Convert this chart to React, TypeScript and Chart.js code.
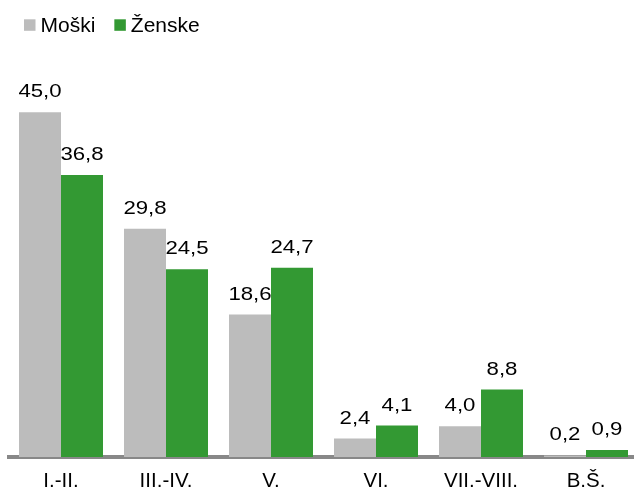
import React, { useEffect, useRef } from "react";
import { Chart, registerables } from "chart.js";

Chart.register(...registerables);

const categories = ["I.-II.", "III.-IV.", "V.", "VI.", "VII.-VIII.", "B.Š."];
const seriesNames = ["Moški", "Ženske"];
const moski = [45.0, 29.8, 18.6, 2.4, 4.0, 0.2];
const zenske = [36.8, 24.5, 24.7, 4.1, 8.8, 0.9];
const colors = ["#bcbcbc", "#339933"];

const FONT = '"Liberation Sans", Arial, sans-serif';

const fmt = (v: number) => v.toFixed(1).replace(".", ",");

const valueLabels = {
  id: "valueLabels",
  afterDatasetsDraw(chart: any) {
    const ctx = chart.ctx;
    ctx.save();
    ctx.fillStyle = "#000";
    ctx.font = `18.5px ${FONT}`;
    ctx.textAlign = "center";
    ctx.textBaseline = "alphabetic";
    chart.data.datasets.forEach((ds: any, di: number) => {
      const meta = chart.getDatasetMeta(di);
      meta.data.forEach((bar: any, i: number) => {
        const v = ds.data[i];
        ctx.save();
        ctx.translate(bar.x, bar.y - 15);
        ctx.scale(1.2, 1);
        ctx.fillText(fmt(v), 0, 0);
        ctx.restore();
      });
    });
    ctx.restore();
  },
};

const customLegend = {
  id: "customLegend",
  afterDraw(chart: any) {
    const ctx = chart.ctx;
    ctx.save();
    ctx.font = `21px ${FONT}`;
    ctx.textAlign = "left";
    ctx.textBaseline = "alphabetic";
    let x = 24;
    const boxTop = 19.3;
    const box = 11.5;
    const baseline = 31.7;
    chart.data.datasets.forEach((ds: any) => {
      ctx.fillStyle = ds.backgroundColor;
      ctx.fillRect(x, boxTop, box, box);
      const tx = x + box + 5;
      ctx.fillStyle = "#000";
      ctx.fillText(ds.label, tx, baseline);
      x = tx + ctx.measureText(ds.label).width + 19;
    });
    ctx.restore();
  },
};

export default function App() {
  const ref = useRef<HTMLCanvasElement | null>(null);
  useEffect(() => {
    if (!ref.current) return;
    const chart = new Chart(ref.current, {
      type: "bar",
      data: {
        labels: categories,
        datasets: [
          { label: seriesNames[0], data: moski, backgroundColor: colors[0] },
          { label: seriesNames[1], data: zenske, backgroundColor: colors[1] },
        ],
      },
      options: {
        responsive: false,
        animation: false,
        layout: { padding: { left: 8.5, right: 6.5, top: 74, bottom: 0 } },
        plugins: { legend: { display: false }, tooltip: { enabled: false } },
        datasets: { bar: { categoryPercentage: 0.8, barPercentage: 1.0 } },
        scales: {
          x: {
            z: 1,
            grid: { display: false, drawTicks: false },
            border: { display: true, color: "#888888", width: 4 },
            ticks: {
              color: "#000",
              padding: 14.5,
              font: { family: FONT, size: 20.5, lineHeight: 1.0 },
            },
            afterFit(scale: any) {
              scale.height = 35;
            },
          },
          y: {
            display: false,
            min: 0,
            max: 50,
            grid: { display: false },
          },
        },
      },
      plugins: [valueLabels, customLegend],
    });
    return () => chart.destroy();
  }, []);
  return (
    <div
      style={{
        position: "fixed",
        left: 0,
        top: 0,
        width: 634,
        height: 492,
        overflow: "hidden",
        background: "#fff",
      }}
    >
      <canvas ref={ref} width={645} height={492} style={{ display: "block" }} />
    </div>
  );
}
